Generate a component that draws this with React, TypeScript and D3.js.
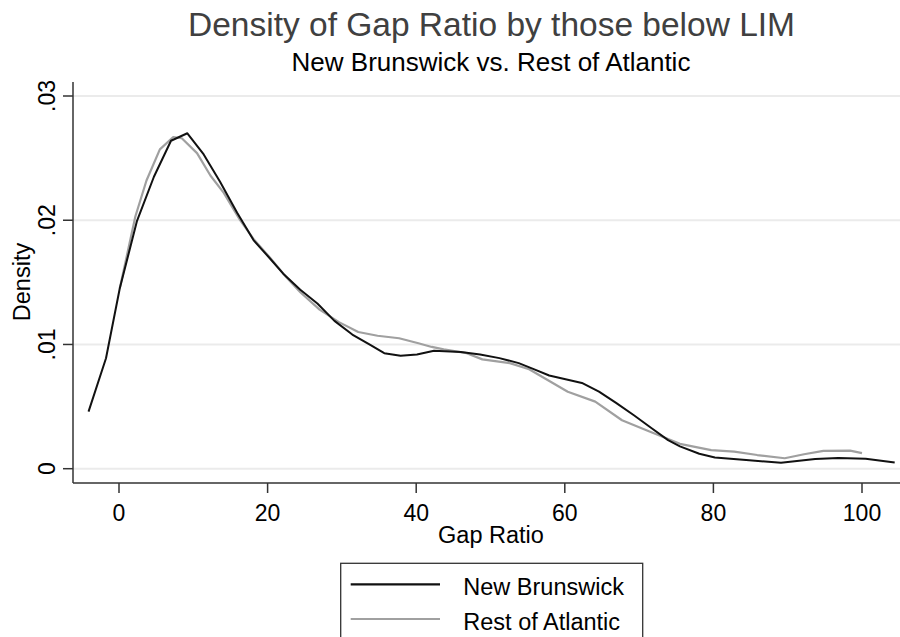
import React, { useEffect, useRef } from "react";
import * as d3 from "d3";

const nbX = [-4.1, -1.75, 0.1, 2.4, 4.7, 7.0, 9.2, 11.4, 13.6, 15.9, 18.1, 20.2, 22.1, 24.4, 26.7, 29.0, 31.4, 33.7, 35.7, 37.9, 40.1, 42.4, 46.0, 48.6, 51.2, 53.8, 55.9, 57.9, 60.1, 62.3, 64.6, 66.9, 69.3, 71.6, 73.9, 75.5, 78.1, 80.2, 84.4, 89.1, 93.7, 96.8, 100.5, 104.4];
const nbY = [0.00459, 0.00889, 0.0145, 0.0199, 0.0235, 0.0264, 0.0270, 0.0253, 0.0231, 0.0206, 0.0184, 0.0170, 0.0157, 0.0144, 0.0133, 0.0119, 0.0108, 0.0100, 0.0093, 0.0091, 0.0092, 0.0095, 0.0094, 0.0092, 0.0089, 0.0085, 0.0080, 0.0075, 0.0072, 0.0069, 0.0062, 0.0053, 0.0043, 0.0033, 0.0023, 0.0018, 0.0012, 0.0009, 0.0007, 0.00048, 0.00078, 0.00086, 0.00081, 0.0005];

const raX = [0.1, 2.2, 3.7, 5.5, 7.3, 8.45, 10.5, 12.3, 14.1, 16.3, 18.1, 20.3, 22.4, 24.4, 27.0, 29.6, 32.2, 34.8, 37.7, 40.3, 42.1, 43.7, 46.8, 48.9, 52.6, 55.2, 57.8, 60.4, 64.1, 67.7, 71.4, 75.5, 79.7, 82.8, 85.9, 89.6, 92.2, 94.8, 98.4, 100.0];
const raY = [0.0145, 0.0203, 0.0232, 0.0257, 0.0267, 0.0266, 0.0254, 0.0236, 0.0222, 0.0200, 0.0185, 0.0170, 0.0155, 0.0142, 0.0128, 0.0118, 0.0110, 0.0107, 0.0105, 0.0101, 0.0098, 0.0096, 0.0093, 0.0088, 0.0085, 0.0080, 0.0071, 0.0062, 0.0054, 0.0039, 0.0030, 0.0020, 0.0015, 0.00137, 0.0011, 0.00084, 0.00116, 0.00143, 0.00145, 0.00125];

const xTicks = [0, 20, 40, 60, 80, 100];
const yTicks = [0, 0.01, 0.02, 0.03];
const yTickLabels = ["0", ".01", ".02", ".03"];
const seriesNames = ["New Brunswick", "Rest of Atlantic"];
const seriesColors = ["#111111", "#a0a0a0"];

const FONT = "'Liberation Sans', Arial, Helvetica, sans-serif";

export default function App() {
  const ref = useRef<SVGSVGElement>(null);

  useEffect(() => {
    const svg = d3.select(ref.current);
    svg.selectAll("*").remove();

    const x = d3.scaleLinear().domain([0, 100]).range([119, 862]);
    const y = d3.scaleLinear().domain([0, 0.03]).range([468.7, 96]);
    const left = 73, right = 900, bottom = 483, top = 82;

    svg.append("rect").attr("width", 900).attr("height", 637).attr("fill", "#fff");

    // titles
    svg.append("text").attr("x", 491.5).attr("y", 35.5).attr("text-anchor", "middle")
      .attr("font-family", FONT).attr("font-size", 33.5).attr("fill", "#404040")
      .text("Density of Gap Ratio by those below LIM");
    svg.append("text").attr("x", 491).attr("y", 71).attr("text-anchor", "middle")
      .attr("font-family", FONT).attr("font-size", 26).attr("fill", "#000")
      .text("New Brunswick vs. Rest of Atlantic");

    // gridlines
    svg.append("g").selectAll("line").data(yTicks).join("line")
      .attr("x1", left).attr("x2", right)
      .attr("y1", d => y(d)).attr("y2", d => y(d))
      .attr("stroke", "#ebebeb").attr("stroke-width", 2);

    // axes
    const axisColor = "#333";
    svg.append("line").attr("x1", left).attr("x2", left).attr("y1", top).attr("y2", bottom)
      .attr("stroke", axisColor).attr("stroke-width", 1.5);
    svg.append("line").attr("x1", left).attr("x2", right).attr("y1", bottom).attr("y2", bottom)
      .attr("stroke", axisColor).attr("stroke-width", 1.5);

    svg.append("g").selectAll("line").data(yTicks).join("line")
      .attr("x1", left - 10).attr("x2", left)
      .attr("y1", d => y(d)).attr("y2", d => y(d))
      .attr("stroke", axisColor).attr("stroke-width", 1.5);
    svg.append("g").selectAll("text").data(yTicks).join("text")
      .attr("transform", d => `translate(54.5,${y(d)}) rotate(-90)`)
      .attr("text-anchor", "middle").attr("font-family", FONT).attr("font-size", 23)
      .attr("fill", "#000")
      .text((d, i) => yTickLabels[i]);

    svg.append("g").selectAll("line").data(xTicks).join("line")
      .attr("x1", d => x(d)).attr("x2", d => x(d))
      .attr("y1", bottom).attr("y2", bottom + 10)
      .attr("stroke", axisColor).attr("stroke-width", 1.5);
    svg.append("g").selectAll("text").data(xTicks).join("text")
      .attr("x", d => x(d)).attr("y", 520.5)
      .attr("text-anchor", "middle").attr("font-family", FONT).attr("font-size", 23)
      .attr("fill", "#000")
      .text(d => String(d));

    svg.append("text").attr("x", 491).attr("y", 543).attr("text-anchor", "middle")
      .attr("font-family", FONT).attr("font-size", 23.5).attr("fill", "#000")
      .text("Gap Ratio");
    svg.append("text").attr("transform", "translate(30,282) rotate(-90)")
      .attr("text-anchor", "middle").attr("font-family", FONT).attr("font-size", 23.5)
      .attr("fill", "#000").text("Density");

    // curves
    const line = d3.line<[number, number]>().x(d => x(d[0])).y(d => y(d[1])).curve(d3.curveLinear);
    const raPts = raX.map((v, i) => [v, raY[i]] as [number, number]);
    const nbPts = nbX.map((v, i) => [v, nbY[i]] as [number, number]);
    svg.append("path").attr("d", line(raPts)).attr("fill", "none")
      .attr("stroke", seriesColors[1]).attr("stroke-width", 2.2).attr("stroke-linejoin", "round");
    svg.append("path").attr("d", line(nbPts)).attr("fill", "none")
      .attr("stroke", seriesColors[0]).attr("stroke-width", 2).attr("stroke-linejoin", "round");

    // legend
    svg.append("rect").attr("x", 340.7).attr("y", 563.3).attr("width", 302).attr("height", 100)
      .attr("fill", "#fff").attr("stroke", "#333").attr("stroke-width", 1.3);
    const ly = [584.3, 619];
    seriesNames.forEach((name, i) => {
      svg.append("line").attr("x1", 350.7).attr("x2", 440).attr("y1", ly[i]).attr("y2", ly[i])
        .attr("stroke", seriesColors[i]).attr("stroke-width", 2.2);
      svg.append("text").attr("x", 463.3).attr("y", ly[i] + 10.5)
        .attr("font-family", FONT).attr("font-size", 23.5).attr("fill", "#000").text(name);
    });
  }, []);

  return (
    <svg ref={ref} width={900} height={637}
      style={{ position: "absolute", left: 0, top: 0, display: "block" }} />
  );
}
